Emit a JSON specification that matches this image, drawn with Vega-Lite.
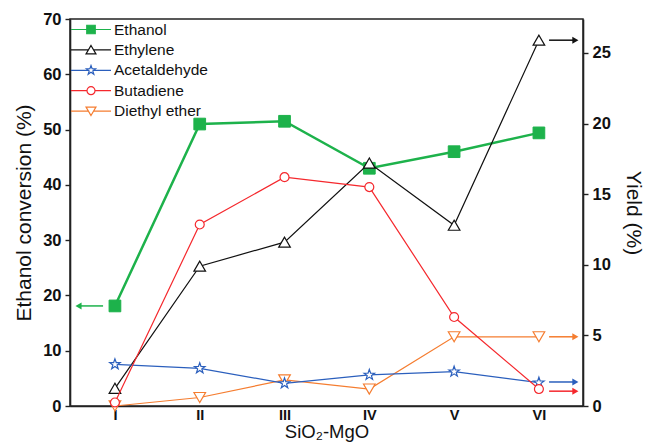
{
  "$schema": "https://vega.github.io/schema/vega-lite/v6.json",
  "width": 513,
  "height": 387,
  "autosize": {"type": "none"},
  "padding": {"left": 70, "top": 19, "right": 62, "bottom": 40},
  "config": {
    "font": "Liberation Sans",
    "view": {"stroke": "#222", "strokeWidth": 1.5},
    "axis": {
      "domainColor": "#222", "domainWidth": 1.6, "tickColor": "#222", "tickWidth": 1.4,
      "labelFont": "Liberation Sans", "labelFontWeight": "bold", "labelFontSize": 16.5, "labelColor": "#111",
      "titleFont": "Liberation Sans", "titleFontWeight": "normal", "titleFontSize": 21, "titleColor": "#111",
      "grid": false, "labelOverlap": false
    }
  },
  "datasets": {
    "main": [
      {"x": 1, "series": "Ethanol", "value": 18.1},
      {"x": 2, "series": "Ethanol", "value": 51.0},
      {"x": 3, "series": "Ethanol", "value": 51.5},
      {"x": 4, "series": "Ethanol", "value": 43.0},
      {"x": 5, "series": "Ethanol", "value": 46.0},
      {"x": 6, "series": "Ethanol", "value": 49.4},
      {"x": 1, "series": "Ethylene", "value": 1.25},
      {"x": 2, "series": "Ethylene", "value": 9.9},
      {"x": 3, "series": "Ethylene", "value": 11.6},
      {"x": 4, "series": "Ethylene", "value": 17.2},
      {"x": 5, "series": "Ethylene", "value": 12.8},
      {"x": 6, "series": "Ethylene", "value": 25.9},
      {"x": 1, "series": "Acetaldehyde", "value": 2.95},
      {"x": 2, "series": "Acetaldehyde", "value": 2.67},
      {"x": 3, "series": "Acetaldehyde", "value": 1.6},
      {"x": 4, "series": "Acetaldehyde", "value": 2.2},
      {"x": 5, "series": "Acetaldehyde", "value": 2.43},
      {"x": 6, "series": "Acetaldehyde", "value": 1.65},
      {"x": 1, "series": "Butadiene", "value": 0.25},
      {"x": 2, "series": "Butadiene", "value": 12.85},
      {"x": 3, "series": "Butadiene", "value": 16.2},
      {"x": 4, "series": "Butadiene", "value": 15.5},
      {"x": 5, "series": "Butadiene", "value": 6.3},
      {"x": 6, "series": "Butadiene", "value": 1.2},
      {"x": 1, "series": "Diethyl ether", "value": 0.0},
      {"x": 2, "series": "Diethyl ether", "value": 0.6},
      {"x": 3, "series": "Diethyl ether", "value": 1.85},
      {"x": 4, "series": "Diethyl ether", "value": 1.2},
      {"x": 5, "series": "Diethyl ether", "value": 4.9},
      {"x": 6, "series": "Diethyl ether", "value": 4.9}
    ],
    "arrows": [
      {"series": "Ethanol", "x": 0.86, "xend": 0.57, "value": 18.1},
      {"series": "Ethylene", "x": 6.12, "xend": 6.43, "value": 25.9},
      {"series": "Diethyl ether", "x": 6.12, "xend": 6.43, "value": 4.9},
      {"series": "Acetaldehyde", "x": 6.12, "xend": 6.43, "value": 1.7},
      {"series": "Butadiene", "x": 6.12, "xend": 6.43, "value": 1.05}
    ]
  },
  "data": {"name": "main"},
  "layer": [
    {
      "layer": [
        {
          "transform": [{"filter": "datum.series === 'Ethanol'"}],
          "mark": {"type": "line", "color": "#1db24b", "strokeWidth": 2.5},
          "encoding": {
            "x": {"field": "x", "type": "quantitative", "scale": {"domain": [0.47, 6.52], "nice": false, "zero": false},
              "axis": {"values": [1, 2, 3, 4, 5, 6], "labelExpr": "datum.value == 1 ? 'I' : datum.value == 2 ? 'II' : datum.value == 3 ? 'III' : datum.value == 4 ? 'IV' : datum.value == 5 ? 'V' : 'VI'", "ticks": false, "labelPadding": 2, "labelFontSize": 14.5, "title": "SiO₂-MgO", "titleFontSize": 18.5, "titlePadding": 1, "labelFlush": false}},
            "y": {"field": "value", "type": "quantitative", "scale": {"domain": [0, 70], "nice": false},
              "axis": {"orient": "left", "values": [0, 5, 10, 15, 20, 25, 30, 35, 40, 45, 50, 55, 60, 65, 70], "labelExpr": "datum.value % 10 === 0 ? datum.label : ''", "tickSize": 5, "labelPadding": 4, "title": "Ethanol conversion (%)", "titlePadding": 8}}
          }
        },
        {
          "transform": [{"filter": "datum.series === 'Ethanol'"}],
          "mark": {"type": "point", "shape": "square", "size": 137, "fill": "#1db24b", "stroke": "#1db24b", "strokeWidth": 1, "opacity": 1},
          "encoding": {
            "x": {"field": "x", "type": "quantitative"},
            "y": {"field": "value", "type": "quantitative"}
          }
        },
        {
          "data": {"name": "arrows"},
          "transform": [{"filter": "datum.series === 'Ethanol'"}],
          "mark": {"type": "rule", "color": "#1db24b", "strokeWidth": 1.5},
          "encoding": {
            "x": {"field": "x", "type": "quantitative"},
            "x2": {"field": "xend"},
            "y": {"field": "value", "type": "quantitative"}
          }
        },
        {
          "data": {"name": "arrows"},
          "transform": [{"filter": "datum.series === 'Ethanol'"}],
          "mark": {"type": "point", "shape": "triangle-left", "size": 50, "filled": true, "color": "#1db24b", "opacity": 1},
          "encoding": {
            "x": {"field": "xend", "type": "quantitative"},
            "y": {"field": "value", "type": "quantitative"}
          }
        }
      ]
    },
    {
      "layer": [
        {
          "transform": [{"filter": "datum.series === 'Ethylene'"}],
          "mark": {"type": "line", "color": "#111111", "strokeWidth": 1.2},
          "encoding": {
            "x": {"field": "x", "type": "quantitative"},
            "y": {"field": "value", "type": "quantitative", "scale": {"domain": [0, 27.4], "nice": false},
              "axis": {"orient": "right", "values": [0, 2.5, 5, 7.5, 10, 12.5, 15, 17.5, 20, 22.5, 25], "labelExpr": "datum.value % 5 === 0 ? datum.label : ''", "tickSize": 5, "labelPadding": 4, "title": "Yield (%)", "titlePadding": 12}}
          }
        },
        {
          "transform": [{"filter": "datum.series === 'Ethylene'"}],
          "mark": {"type": "point", "shape": "triangle-up", "size": 135, "fill": "white", "stroke": "#111111", "strokeWidth": 1.2, "opacity": 1},
          "encoding": {
            "x": {"field": "x", "type": "quantitative"},
            "y": {"field": "value", "type": "quantitative"}
          }
        },
        {
          "transform": [{"filter": "datum.series === 'Diethyl ether'"}],
          "mark": {"type": "line", "color": "#f57d30", "strokeWidth": 1.2},
          "encoding": {
            "x": {"field": "x", "type": "quantitative"},
            "y": {"field": "value", "type": "quantitative"}
          }
        },
        {
          "transform": [{"filter": "datum.series === 'Diethyl ether'"}],
          "mark": {"type": "point", "shape": "triangle-down", "size": 135, "fill": "white", "stroke": "#f57d30", "strokeWidth": 1.2, "opacity": 1},
          "encoding": {
            "x": {"field": "x", "type": "quantitative"},
            "y": {"field": "value", "type": "quantitative"}
          }
        },
        {
          "transform": [{"filter": "datum.series === 'Acetaldehyde'"}],
          "mark": {"type": "line", "color": "#2b5fbd", "strokeWidth": 1.2},
          "encoding": {
            "x": {"field": "x", "type": "quantitative"},
            "y": {"field": "value", "type": "quantitative"}
          }
        },
        {
          "transform": [{"filter": "datum.series === 'Acetaldehyde'"}],
          "mark": {"type": "point", "shape": "M0,-1L0.235,-0.324L0.951,-0.309L0.38,0.124L0.588,0.809L0,0.4L-0.588,0.809L-0.38,0.124L-0.951,-0.309L-0.235,-0.324Z", "size": 121, "fill": "white", "stroke": "#2b5fbd", "strokeWidth": 1.2, "opacity": 1},
          "encoding": {
            "x": {"field": "x", "type": "quantitative"},
            "y": {"field": "value", "type": "quantitative"}
          }
        },
        {
          "transform": [{"filter": "datum.series === 'Butadiene'"}],
          "mark": {"type": "line", "color": "#f5282d", "strokeWidth": 1.2},
          "encoding": {
            "x": {"field": "x", "type": "quantitative"},
            "y": {"field": "value", "type": "quantitative"}
          }
        },
        {
          "transform": [{"filter": "datum.series === 'Butadiene'"}],
          "mark": {"type": "point", "shape": "circle", "size": 80, "fill": "white", "stroke": "#f5282d", "strokeWidth": 1.2, "opacity": 1},
          "encoding": {
            "x": {"field": "x", "type": "quantitative"},
            "y": {"field": "value", "type": "quantitative"}
          }
        },
        {
          "data": {"name": "arrows"},
          "transform": [{"filter": "datum.series !== 'Ethanol'"}],
          "mark": {"type": "rule", "strokeWidth": 1.5},
          "encoding": {
            "x": {"field": "x", "type": "quantitative"},
            "x2": {"field": "xend"},
            "y": {"field": "value", "type": "quantitative"},
            "color": {"field": "series", "type": "nominal", "legend": null,
              "scale": {"domain": ["Ethylene", "Acetaldehyde", "Butadiene", "Diethyl ether"], "range": ["#111111", "#2b5fbd", "#f5282d", "#f57d30"]}}
          }
        },
        {
          "data": {"name": "arrows"},
          "transform": [{"filter": "datum.series !== 'Ethanol'"}],
          "mark": {"type": "point", "shape": "triangle-right", "size": 50, "filled": true, "opacity": 1},
          "encoding": {
            "x": {"field": "xend", "type": "quantitative"},
            "y": {"field": "value", "type": "quantitative"},
            "color": {"field": "series", "type": "nominal", "legend": null}
          }
        }
      ]
    },
    {
      "mark": {"type": "point", "opacity": 0},
      "encoding": {
        "shape": {"field": "series", "type": "nominal",
          "scale": {"domain": ["Ethanol", "Ethylene", "Acetaldehyde", "Butadiene", "Diethyl ether"],
            "range": [
              "M-2.5,0H-0.53M0.53,0H2.5M-0.53,-0.53H0.53V0.53H-0.53Z",
              "M-2.5,0H-0.33M0.33,0H2.5M0,-0.55L0.62,0.5L-0.62,0.5Z",
              "M-2.5,0H-0.33M0.33,0H2.5M0,-0.6L0.141,-0.194L0.571,-0.185L0.228,0.074L0.353,0.485L0,0.24L-0.353,0.485L-0.228,0.074L-0.571,-0.185L-0.141,-0.194Z",
              "M-2.5,0H-0.5M0.5,0H2.5M-0.5,0A0.5,0.5,0,1,1,0.5,0A0.5,0.5,0,1,1,-0.5,0Z",
              "M-2.5,0H-0.33M0.33,0H2.5M0,0.55L0.62,-0.5L-0.62,-0.5Z"
            ]},
          "legend": {"orient": "none", "legendX": 12, "legendY": 1.5, "title": null, "padding": 0,
            "symbolSize": 256, "symbolOpacity": 1, "symbolStrokeWidth": 1.2,
            "labelFont": "Liberation Sans", "labelFontSize": 15.5, "labelColor": "#111", "labelOffset": 14, "rowPadding": 2.4,
            "encode": {"symbols": {"update": {"opacity": {"value": 1}, "strokeWidth": {"signal": "datum.value === 'Ethanol' ? 2.5 : 1.2"}}}}}
        },
        "stroke": {"field": "series", "type": "nominal",
          "scale": {"domain": ["Ethanol", "Ethylene", "Acetaldehyde", "Butadiene", "Diethyl ether"], "range": ["#1db24b", "#111111", "#2b5fbd", "#f5282d", "#f57d30"]}},
        "fill": {"field": "series", "type": "nominal",
          "scale": {"domain": ["Ethanol", "Ethylene", "Acetaldehyde", "Butadiene", "Diethyl ether"], "range": ["#1db24b", "white", "white", "white", "white"]}}
      }
    }
  ],
  "resolve": {"scale": {"y": "independent"}}
}
